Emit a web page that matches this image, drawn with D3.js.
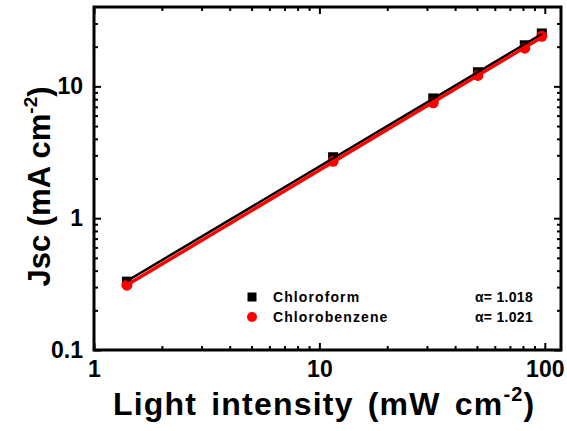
<!DOCTYPE html>
<html>
<head>
<meta charset="utf-8">
<script src="https://cdn.jsdelivr.net/npm/d3@7"></script>
<style>
  html, body { margin: 0; padding: 0; background: #fff; }
  svg { display: block; font-family: "Liberation Sans", Arial, sans-serif; }
</style>
</head>
<body>
<svg id="chart" width="567" height="431"></svg>
<script>
// Light intensity (mW cm^-2) and short-circuit current density (mA cm^-2)
const intensity      = [1.4, 11.5, 32, 50.5, 81.5, 97];
const jscChloroform  = [0.33, 2.9, 8.1, 12.8, 20.5, 25.2];
const jscChlorobenz  = [0.31, 2.7, 7.5, 12.1, 19.5, 24.0];
const seriesNames    = ["Chloroform", "Chlorobenzene"];
const alphas         = [1.018, 1.021];
const xMajorTicks    = [1, 10, 100];
const yMajorTicks    = [0.1, 1, 10];

const svg = d3.select("#chart");
const mLeft = 94, mRight = 561, mTop = 7, mBottom = 350;

const x = d3.scaleLog().domain([1, 118]).range([mLeft, mRight]);
const y = d3.scaleLog().domain([0.1, 40]).range([mBottom, mTop]);

// minor tick values: 2..9 within each decade, inside the domain
function minorTicks(scale) {
  const [a, b] = scale.domain();
  const out = [];
  for (let e = Math.floor(Math.log10(a)); e <= Math.ceil(Math.log10(b)); e++) {
    for (let m = 2; m <= 9; m++) {
      const v = m * Math.pow(10, e);
      if (v > a && v < b) out.push(v);
    }
  }
  return out;
}

const majLen = 7, minLen = 4;
const fmt = d => (d < 1 ? d3.format(".1f")(d) : d3.format("d")(d));

// inward ticks on all four sides
function drawAxis(gen, transform, ticks, len, labels) {
  const g = svg.append("g").attr("transform", transform)
    .call(gen.tickValues(ticks).tickSize(-len).tickSizeOuter(0)
      .tickPadding(labels ? 11 : 0)
      .tickFormat(labels ? fmt : () => ""));
  g.select(".domain").remove();
  g.selectAll(".tick line").attr("stroke", "#000").attr("stroke-width", 2);
  g.selectAll(".tick text")
    .attr("font-size", 23).attr("font-weight", "bold").attr("fill", "#000");
  return g;
}

drawAxis(d3.axisBottom(x), `translate(0,${mBottom})`, xMajorTicks, majLen, true);
drawAxis(d3.axisBottom(x), `translate(0,${mBottom})`, minorTicks(x), minLen, false);
drawAxis(d3.axisTop(x), `translate(0,${mTop})`, xMajorTicks, majLen, false);
drawAxis(d3.axisTop(x), `translate(0,${mTop})`, minorTicks(x), minLen, false);
drawAxis(d3.axisLeft(y), `translate(${mLeft},0)`, yMajorTicks, majLen, true);
drawAxis(d3.axisLeft(y), `translate(${mLeft},0)`, minorTicks(y), minLen, false);
drawAxis(d3.axisRight(y), `translate(${mRight},0)`, yMajorTicks, majLen, false);
drawAxis(d3.axisRight(y), `translate(${mRight},0)`, minorTicks(y), minLen, false);

// plot frame
svg.append("rect")
  .attr("x", mLeft).attr("y", mTop)
  .attr("width", mRight - mLeft).attr("height", mBottom - mTop)
  .attr("fill", "none").attr("stroke", "#000").attr("stroke-width", 3);

// power-law fit J = k * I^alpha with the stated exponent
function fitLine(ys, alpha) {
  const lx = intensity.map(Math.log10), ly = ys.map(Math.log10);
  const b = d3.mean(ly.map((v, i) => v - alpha * lx[i]));
  const xs = [intensity[0], intensity[intensity.length - 1]];
  return xs.map(v => [v, Math.pow(10, b + alpha * Math.log10(v))]);
}
const line = d3.line().x(d => x(d[0])).y(d => y(d[1]));

const plot = svg.append("g");

// markers
plot.selectAll(".sq").data(intensity.map((v, i) => [v, jscChloroform[i]]))
  .enter().append("rect")
  .attr("x", d => x(d[0]) - 5).attr("y", d => y(d[1]) - 5)
  .attr("width", 10).attr("height", 10).attr("fill", "#000");

plot.selectAll(".ci").data(intensity.map((v, i) => [v, jscChlorobenz[i]]))
  .enter().append("circle")
  .attr("cx", d => x(d[0])).attr("cy", d => y(d[1])).attr("r", 5.5)
  .attr("fill", "#ff0000");

// fit lines
plot.append("path").datum(fitLine(jscChloroform, alphas[0]))
  .attr("d", line).attr("fill", "none").attr("stroke", "#000").attr("stroke-width", 2.5);
plot.append("path").datum(fitLine(jscChlorobenz, alphas[1]))
  .attr("d", line).attr("fill", "none").attr("stroke", "#ff0000").attr("stroke-width", 3.5);

// legend
const legend = svg.append("g").attr("font-size", 14).attr("font-weight", "bold")
  .attr("letter-spacing", 1.1).attr("fill", "#000");
const rowsY = [297, 317];
legend.append("rect").attr("x", 247.5).attr("y", rowsY[0] - 4.5).attr("width", 9).attr("height", 9).attr("fill", "#000");
legend.append("circle").attr("cx", 252).attr("cy", rowsY[1]).attr("r", 5).attr("fill", "#ff0000");
seriesNames.forEach((n, i) => {
  legend.append("text").attr("x", 273).attr("y", rowsY[i] + 5).text(n);
  legend.append("text").attr("x", 533).attr("y", rowsY[i] + 5).attr("text-anchor", "end")
    .attr("letter-spacing", 0.3)
    .text("\u03b1= " + d3.format(".3f")(alphas[i]));
});

// axis titles
const xt = svg.append("text").attr("x", 113).attr("y", 415)
  .attr("font-size", 32).attr("font-weight", "bold")
  .attr("letter-spacing", 1.2).attr("word-spacing", 4);
xt.append("tspan").text("Light intensity (mW cm");
xt.append("tspan").attr("dy", -14).attr("font-size", 20).text("-2");
xt.append("tspan").attr("dy", 14).text(")");

const yt = svg.append("text")
  .attr("transform", `translate(50,${(mTop + mBottom) / 2 + 8}) rotate(-90)`)
  .attr("text-anchor", "middle").attr("font-size", 31).attr("font-weight", "bold");
yt.append("tspan").text("Jsc (mA cm");
yt.append("tspan").attr("dy", -13).attr("font-size", 19).text("-2");
yt.append("tspan").attr("dy", 13).text(")");
</script>
</body>
</html>
